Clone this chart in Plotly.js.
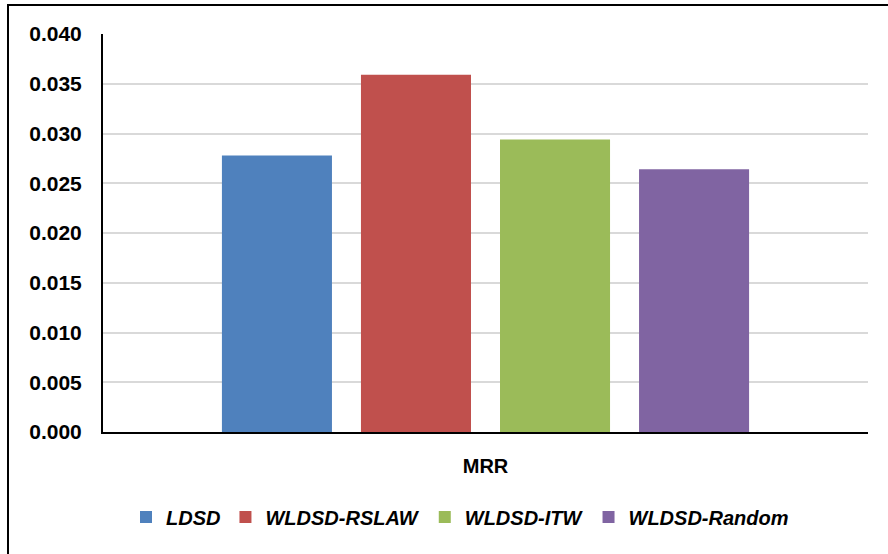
<!DOCTYPE html>
<html>
<head>
<meta charset="utf-8">
<script src="https://cdn.plot.ly/plotly-3.0.1.min.js"></script>
<style>html,body{margin:0;padding:0;background:#fff;}#chart{width:888px;height:554px;}</style>
</head>
<body>
<div id="chart"></div>
<script>
const category = ["MRR"];
const seriesNames = ["LDSD", "WLDSD-RSLAW", "WLDSD-ITW", "WLDSD-Random"];
const seriesValues = [[0.0278], [0.0359], [0.0294], [0.0264]];
const seriesColors = ["#4F81BD", "#C0504D", "#9BBB59", "#8064A2"];
const yTickValues = [0, 0.005, 0.01, 0.015, 0.02, 0.025, 0.03, 0.035, 0.04];
const yTickLabels = ["0.000", "0.005", "0.010", "0.015", "0.020", "0.025", "0.030", "0.035", "0.040"];

const traces = seriesNames.map((name, i) => ({
  type: "bar",
  name: name,
  x: category,
  y: seriesValues[i],
  marker: {color: seriesColors[i], line: {width: 0}},
  hoverinfo: "skip"
}));

const W = 888, H = 554, ml = 103, mr = 20, mt = 34, mb = 122;
const pw = W - ml - mr, ph = H - mt - mb;
const FONT = "Liberation Sans, Arial, sans-serif";

const layout = {
  width: W, height: H,
  margin: {l: ml, r: mr, t: mt, b: mb, pad: 0},
  paper_bgcolor: "#ffffff",
  plot_bgcolor: "#ffffff",
  barmode: "group",
  bargap: 0.273,
  bargroupgap: 0.2086,
  showlegend: true,
  legend: {
    orientation: "h",
    x: (460 - ml) / pw, xanchor: "center",
    y: (432 - 517) / ph, yanchor: "middle",
    font: {family: FONT, size: 20, color: "#000", weight: "bold", style: "italic"},
    itemclick: false, itemdoubleclick: false,
    traceorder: "normal"
  },
  xaxis: {
    type: "category",
    range: [-0.5, 0.5],
    showline: true, linecolor: "#000", linewidth: 2,
    showgrid: false, zeroline: false,
    ticks: "",
    ticklabelstandoff: 15,
    tickfont: {family: FONT, size: 20, color: "#000", weight: "bold"},
    fixedrange: true
  },
  yaxis: {
    range: [0, 0.04],
    tickvals: yTickValues,
    ticktext: yTickLabels,
    showline: true, linecolor: "#000", linewidth: 2,
    showgrid: true, gridcolor: "#d9d9d9", gridwidth: 2,
    zeroline: false,
    ticks: "",
    ticklabelstandoff: 15,
    tickfont: {family: FONT, size: 21, color: "#000", weight: "bold"},
    fixedrange: true
  },
  shapes: [{
    type: "rect", xref: "paper", yref: "paper",
    x0: (8 - ml) / pw, x1: (W + 4 - ml) / pw,
    y0: -(H + 4 - mt - ph) / ph, y1: (mt + ph - 5) / ph,
    line: {color: "#000", width: 2}, fillcolor: "rgba(0,0,0,0)", layer: "above"
  }]
};

Plotly.newPlot("chart", traces, layout, {displayModeBar: false, staticPlot: true});
</script>
</body>
</html>
